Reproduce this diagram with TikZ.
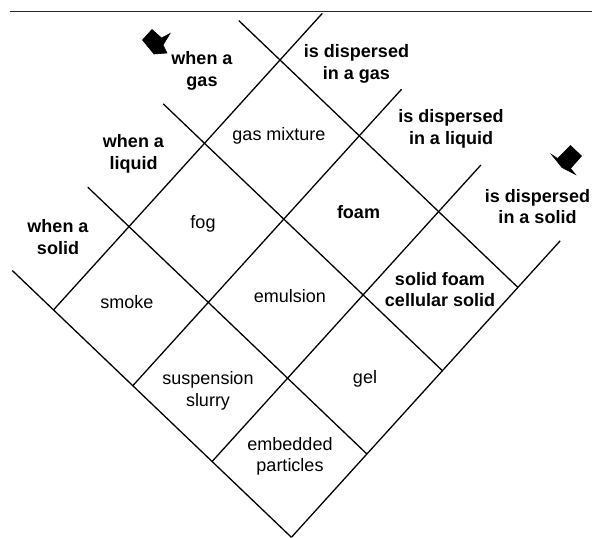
\documentclass[tikz,border=0pt]{standalone}
\usepackage{fontspec}
\setmainfont{Liberation Sans}
\begin{document}
\begin{tikzpicture}[x=1pt,y=-1pt,
  gl/.style={line width=1.3pt, black},
  rule/.style={line width=1pt, black!85},
  blockarrow/.style={fill=black, draw=black, line width=0.6pt, line join=miter},
  hd/.style={font=\fontsize{18}{21.5}\selectfont\bfseries, align=center, inner sep=0pt},
  cl/.style={font=\fontsize{18}{21.5}\selectfont, align=center, inner sep=0pt},
  cb/.style={font=\fontsize{18}{21.5}\selectfont\bfseries, align=center, inner sep=0pt}]
\useasboundingbox (0,0) rectangle (592,538);
% top rule
\coordinate (tl) at (10,11);
\coordinate (tr) at (592,11);
\draw[rule] (tl) -- (tr);
% grid points
\foreach \i in {0,...,3}{
  \foreach \j in {0,...,3}{
    \coordinate (p\i\j) at ({280+79.3*\i-75.5*\j},{60+75.8*\i+83.3*\j});
  }
}
\foreach \j in {0,...,3}{
  \coordinate (a\j) at ({280-75.5*\j-41.2},{60+83.3*\j-39.4});
}
\foreach \i in {0,...,3}{
  \coordinate (b\i) at ({280+79.3*\i+42.3},{60+75.8*\i-46.6});
}
\foreach \j in {0,...,3}{ \draw[gl] (a\j) -- (p0\j) -- (p3\j); }
\foreach \i in {0,...,3}{ \draw[gl] (b\i) -- (p\i0) -- (p\i3); }
% block arrows
\fill[blockarrow] (142.5,40) -- (152,29.5) -- (161.5,38) -- (170,33.5) -- (163,45) -- (167,53) -- (154,54) -- cycle;
\fill[blockarrow] (570.5,145.5) -- (581.5,156) -- (570.5,168.5) -- (575.5,174.5) -- (562,167.5) -- (551.5,154.5) -- (557.5,158.5) -- cycle;
% headings
\node[hd] (wg) at (202,71) {when a\\gas};
\node[hd] (wl) at (133.5,154) {when a\\liquid};
\node[hd] (ws) at (58,237) {when a\\solid};
\node[hd] (dg) at (356.5,64) {is dispersed\\in a gas};
\node[hd] (dl) at (451,129) {is dispersed\\in a liquid};
\node[hd] (ds) at (537.5,206.5) {is dispersed\\in a solid};
% cells
\node[cl] (gm) at (279,136) {gas mixture};
\node[cl] (fog) at (203,224) {fog};
\node[cl] (sm) at (127,302) {smoke};
\node[cl] (em) at (290,296) {emulsion};
\node[cb] (fo) at (358.5,212) {foam};
\node[cb] (sf) at (440,289.5) {solid foam\\cellular solid};
\node[cl] (ge) at (365,379) {gel};
\node[cl] (su) at (208,391) {suspension\\slurry};
\node[cl] (ep) at (290,456.5) {embedded\\particles};
\end{tikzpicture}
\end{document}
